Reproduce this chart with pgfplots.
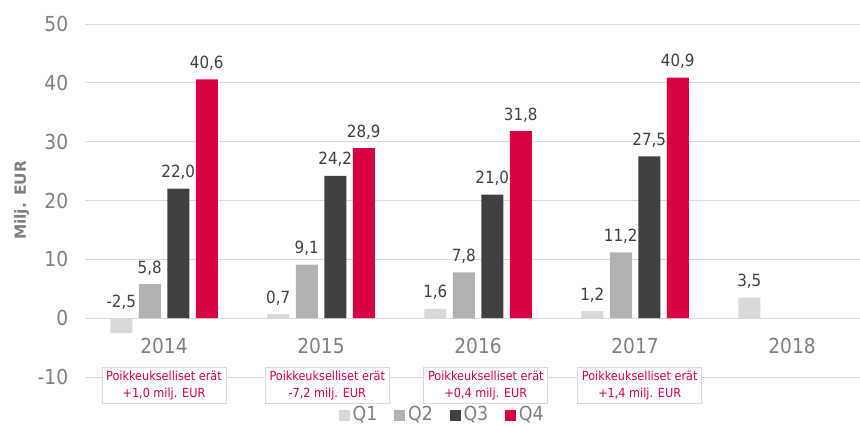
\documentclass[border=0pt]{standalone}
\usepackage{pgfplots}
\pgfplotsset{compat=1.18}
\usepackage{fontspec}
\setmainfont{DejaVu Sans Condensed}
\newfontfamily\ylfont{DejaVu Sans}
\definecolor{qone}{HTML}{D9D9D9}
\definecolor{qtwo}{HTML}{B2B2B2}
\definecolor{qthree}{HTML}{404040}
\definecolor{qfour}{HTML}{D70041}
\definecolor{gridc}{HTML}{D9D9D9}
\definecolor{tickc}{HTML}{7F7F7F}
\definecolor{labc}{HTML}{404040}
\begin{document}
\begin{tikzpicture}
\path[use as bounding box] (-64.125pt,-36pt) rectangle (580.875pt,282.75pt);
\begin{axis}[
  scale only axis, width=580.875pt, height=264.75pt,
  xmin=-0.5, xmax=4.433, ymin=-10, ymax=50,
  ybar=4.875pt, bar width=16.5pt,
  axis line style={draw=none},
  major tick style={draw=none},
  ymajorgrids, grid style={draw=gridc, line width=0.75pt},
  xtick={0,1,2,3,4}, xticklabels={2014,2015,2016,2017,2018},
  ytick={-10,0,10,20,30,40,50},
  /pgf/number format/assume math mode=true,
  tick label style={font=\fontsize{15.5}{18}\selectfont, text=tickc},
  xticklabel style={anchor=north, yshift=36.7pt},
  yticklabel style={anchor=east, xshift=-9.5pt},
  ylabel={\ylfont\fontsize{11.5}{14}\selectfont\bfseries Milj. EUR},
  ylabel style={at={(axis description cs:-0.0825,0.5)}, anchor=center, text=tickc},
  clip=false,
  nodes near coords,
  visualization depends on={rawy \as \rawy},
  every node near coord/.append style={font=\fontsize{12.6}{15}\selectfont, text=labc, anchor=south,
     yshift={(max(0,-\rawy)*4.4125+3.2)*1pt}},
  nodes near coords style={/pgf/number format/.cd, fixed, fixed zerofill, precision=1, use comma, 1000 sep={}, assume math mode=true},
  legend columns=4,
  legend style={at={(0.461,-0.106)}, anchor=center, draw=none, fill=none,
     font=\fontsize{14.5}{17}\selectfont, text=tickc,
     /tikz/every even column/.append style={column sep=10.5pt}},
  legend image code/.code={\fill[#1] (0pt,-5pt) rectangle (8.5pt,3.5pt);},
]
\addplot[fill=qone, draw=none] coordinates {(0,-2.5) (1,0.7) (2,1.6) (3,1.2) (4,3.5)};
\addplot[fill=qtwo, draw=none] coordinates {(0,5.8) (1,9.1) (2,7.8) (3,11.2)};
\addplot[fill=qthree, draw=none] coordinates {(0,22.0) (1,24.2) (2,21.0) (3,27.5)};
\addplot[fill=qfour, draw=none] coordinates {(0,40.6) (1,28.9) (2,31.8) (3,40.9)};
\legend{Q1,Q2,Q3,Q4}
\tikzset{boxst/.style={draw=gridc, line width=0.75pt, fill=white, text=qfour, align=center,
   minimum width=93pt, minimum height=27pt, inner sep=2pt, font=\fontsize{9.4}{12.5}\selectfont}}
\node[boxst] at (axis cs:0,-11.4) {Poikkeukselliset erät\\+1,0 milj. EUR};
\node[boxst] at (axis cs:1.04,-11.4) {Poikkeukselliset erät\\-7,2 milj. EUR};
\node[boxst] at (axis cs:2.05,-11.4) {Poikkeukselliset erät\\+0,4 milj. EUR};
\node[boxst] at (axis cs:3.03,-11.4) {Poikkeukselliset erät\\+1,4 milj. EUR};
\end{axis}
\end{tikzpicture}
\end{document}
